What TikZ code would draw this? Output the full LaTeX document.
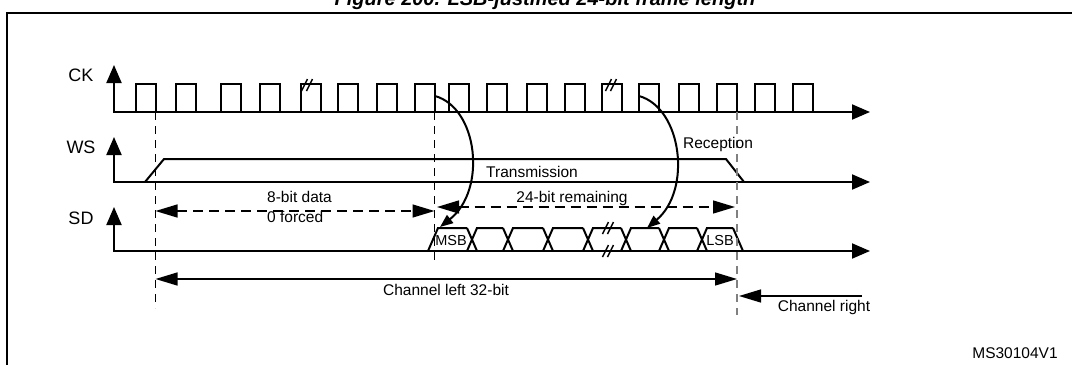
\documentclass[tikz,border=0pt]{standalone}
\usepackage{fontspec}
\setmainfont{Liberation Sans}
\usetikzlibrary{arrows.meta}
\tikzset{
  sig/.style={line width=2pt, line join=miter},
  axisarr/.style={sig, {Triangle[length=18pt,width=15pt]}-{Triangle[length=18pt,width=15pt]}},
  dimboth/.style={line width=1.4pt, {Triangle[length=22pt,width=13pt]}-{Triangle[length=22pt,width=13pt]}},
  dimone/.style={line width=1.4pt, -{Triangle[length=22pt,width=13pt]}},
  dashdim/.style={dimboth, dash pattern=on 10pt off 6pt},
  guide/.style={line width=1.4pt, dash pattern=on 8pt off 6pt},
  curvarr/.style={line width=2pt, -{Triangle[length=13pt,width=10pt]}},
  brk/.style={line width=1.4pt},
  lbl/.style={inner sep=0pt, font=\fontsize{15.5}{18}\selectfont},
  sig name/.style={inner sep=0pt, font=\fontsize{18}{21}\selectfont},
}
\begin{document}
\begin{tikzpicture}[x=1pt,y=-1pt]
\useasboundingbox (0,0) rectangle (1072,365);
% title (cut at top) and frame
\node[inner sep=0pt, anchor=base, font=\fontsize{20}{24}\selectfont\bfseries\itshape] (title) at (545,5) {Figure 200. LSB-justified 24-bit frame length};
\draw[line width=2pt] (7,365) -- (7,12.5) -- (1072,12.5);

% signal names
\node[sig name] (ck) at (81,75) {CK};
\node[sig name] (ws) at (81,147) {WS};
\node[sig name] (sd) at (81,218) {SD};

% axes
\coordinate (ckT) at (114,65); \coordinate (ckO) at (114,112); \coordinate (ckE) at (870,112);
\coordinate (wsT) at (114,137); \coordinate (wsO) at (114,182); \coordinate (wsE) at (870,182);
\coordinate (sdT) at (114,207); \coordinate (sdO) at (114,251); \coordinate (sdE) at (870,251);
\draw[axisarr] (ckT) -- (ckO) -- (ckE);
\draw[axisarr] (wsT) -- (wsO) -- (wsE);
\draw[axisarr] (sdT) -- (sdO) -- (sdE);

% CK pulses
\foreach \r in {136,176,221,260,301,338,377,415,449,487,527,565,602,639,679,717,755,793}
  \draw[sig] (\r,112) -- (\r,84) -- (\r+19.5,84) -- (\r+19.5,112);
% break marks on CK
\foreach \x in {307,611}{
  \draw[brk] (\x-5.5,91) -- (\x+0.5,79);
  \draw[brk] (\x-0.5,91) -- (\x+5.5,79);
}

% WS
\draw[sig] (145,182) -- (164,159) -- (726,159) -- (744,182);

% SD data cells
\draw[sig] (428,251) -- (438,228) -- (467,228);
\foreach \b/\n in {472/503,508/543,548/583,588/621,626/659,664/697,702/733}{
  \draw[sig] (\b-5,228) -- (\b+5,251);
  \draw[sig] (\b-5,251) -- (\b+5,228) -- (\n,228);
}
\draw[sig] (733,228) -- (743,251);
\foreach \y in {228,251}{
  \draw[brk] (602.5,\y+6) -- (608.5,\y-6);
  \draw[brk] (607.5,\y+6) -- (613.5,\y-6);
}
\node[lbl, font=\fontsize{14.5}{17}\selectfont] (msb) at (451,241) {MSB};
\node[lbl, font=\fontsize{14.5}{17}\selectfont] (lsb) at (720,241) {LSB};

% guides
\coordinate (g1t) at (155.5,112); \coordinate (g1b) at (155.5,308);
\coordinate (g2t) at (434.5,112); \coordinate (g2b) at (434.5,263);
\coordinate (g3t) at (737,112);   \coordinate (g3b) at (737,315);
\draw[guide] (g1t) -- (g1b);
\draw[guide] (g2t) -- (g2b);
\draw[guide, gray] (g3t) -- (g3b);

% WS labels
\node[lbl] (tx) at (532,172) {Transmission};
\node[lbl] (rx) at (718,144) {Reception};

% dimension arrows
\coordinate (d8a) at (155.5,211); \coordinate (d8b) at (434.5,211);
\draw[dashdim] (d8a) -- (d8b);
\node[lbl, anchor=west] (d8t) at (267,197) {8-bit data};
\node[lbl, anchor=west] (d8f) at (267,217) {0 forced};

\coordinate (d24a) at (437,207); \coordinate (d24b) at (735,207);
\draw[dashdim] (d24a) -- (d24b);
\node[lbl] (d24t) at (572,198) {24-bit remaining};

\coordinate (cla) at (155.5,279); \coordinate (clb) at (737,279);
\draw[dimboth] (cla) -- (clb);
\node[lbl] (clt) at (446,290) {Channel left 32-bit};

\coordinate (cra) at (862,296); \coordinate (crb) at (739,296);
\draw[dimone] (cra) -- (crb);
\node[lbl] (crt) at (824,307) {Channel right};

% curved arrows
\coordinate (t0) at (435,96); \coordinate (t1) at (440,227);
\draw[curvarr] (t0) .. controls (478,108) and (487,190) .. (t1);
\coordinate (r0) at (639,96); \coordinate (r1) at (647,228);
\draw[curvarr] (r0) .. controls (682,108) and (692,190) .. (r1);

\node[lbl] (ms) at (1015,353) {MS30104V1};
\end{tikzpicture}
\end{document}
